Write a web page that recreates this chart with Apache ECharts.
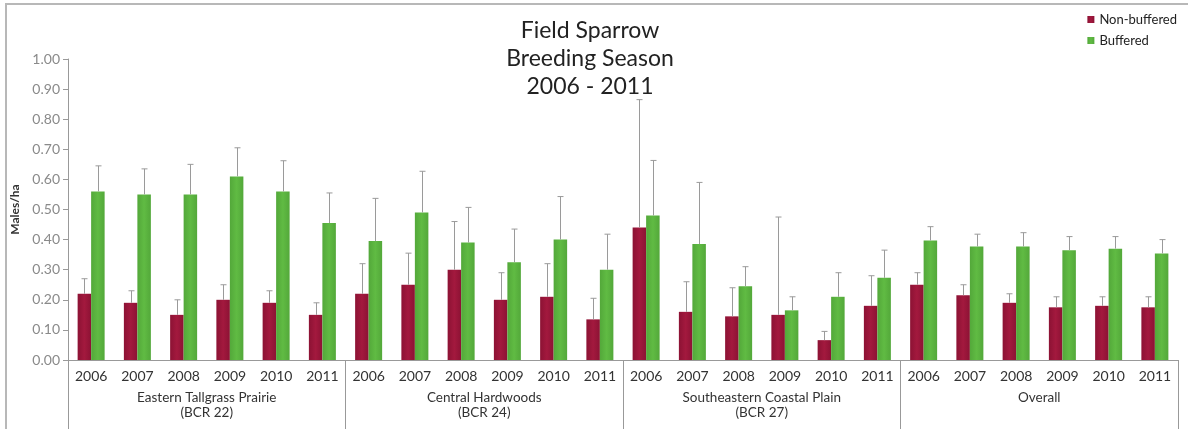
<!DOCTYPE html>
<html>
<head>
<meta charset="utf-8">
<script src="https://cdn.jsdelivr.net/npm/echarts@6/dist/echarts.min.js"></script>
<style>
html,body{margin:0;padding:0;background:#fff;}
#chart{width:1188px;height:429px;}
</style>
</head>
<body>
<div id="chart"></div>
<script>
// ---- data ----
const years = ['2006','2007','2008','2009','2010','2011'];
const groups = ['Eastern Tallgrass Prairie\n(BCR 22)', 'Central Hardwoods\n(BCR 24)', 'Southeastern Coastal Plain\n(BCR 27)', 'Overall'];
const categories = [].concat(years, years, years, years);
const nonBuffered    = [0.22,0.19,0.15,0.20,0.19,0.15,  0.22,0.25,0.30,0.20,0.21,0.135,  0.44,0.16,0.145,0.15,0.066,0.18,  0.25,0.215,0.19,0.175,0.18,0.175];
const nonBufferedErr = [0.27,0.23,0.20,0.25,0.23,0.19,  0.32,0.355,0.46,0.29,0.32,0.205,  0.865,0.26,0.24,0.475,0.095,0.28,  0.29,0.25,0.22,0.21,0.21,0.21];
const buffered       = [0.56,0.55,0.55,0.61,0.56,0.455,  0.395,0.49,0.39,0.325,0.40,0.30,  0.48,0.385,0.245,0.165,0.21,0.273,  0.397,0.377,0.377,0.365,0.37,0.354];
const bufferedErr    = [0.645,0.635,0.65,0.705,0.662,0.555,  0.537,0.627,0.507,0.435,0.543,0.418,  0.663,0.59,0.31,0.21,0.29,0.365,  0.443,0.418,0.423,0.41,0.41,0.40];
const yTicks = [0,0.1,0.2,0.3,0.4,0.5,0.6,0.7,0.8,0.9,1.0];

// ---- chart ----
const BAR_W = 13.5;
const RED = '#a3193e', GREEN = '#60bb43';
const chart = echarts.init(document.getElementById('chart'));

function errRender(sign){
  return function(params, api){
    const x = api.value(0);
    const top = api.coord([x, api.value(2)]);
    const base = api.coord([x, api.value(1)]);
    const cx = Math.round(top[0] + sign * BAR_W / 2) + 0.5;
    const style = {stroke:'#9a9a9a', lineWidth:1};
    return {type:'group', children:[
      {type:'line', shape:{x1:cx, y1:base[1], x2:cx, y2:top[1]}, style:style},
      {type:'line', shape:{x1:cx-3, y1:top[1], x2:cx+3, y2:top[1]}, style:style}
    ]};
  };
}

const option = {
  animation:false,
  backgroundColor:'#fff',
  title:{
    text:'Field Sparrow\nBreeding Season\n2006 - 2011',
    left:585, top:12, textAlign:'center',
    textStyle:{fontFamily:'Lato', fontWeight:'normal', fontSize:23, lineHeight:28, color:'#222'}
  },
  legend:{
    data:['Non-buffered','Buffered'],
    orient:'vertical', right:6, top:8, itemWidth:7, itemHeight:7, itemGap:8, icon:'rect',
    textStyle:{fontFamily:'Lato', fontSize:13, color:'#222'}
  },
  graphic:[{type:'rect', shape:{x:6, y:4, width:1220, height:460}, style:{fill:'none', stroke:'#b8b8b8', lineWidth:2}, silent:true}],
  grid:{left:68, right:10, top:59, bottom:69},
  xAxis:[
    {type:'category', data:categories, position:'bottom',
     axisLine:{lineStyle:{color:'#999'}}, axisTick:{show:false},
     axisLabel:{interval:0, margin:9, fontFamily:'Lato', fontSize:14, color:'#333'}},
    {type:'category', data:groups, position:'bottom',
     axisLine:{show:false},
     axisTick:{show:true, length:72, interval:0, lineStyle:{color:'#999'}},
     axisLabel:{interval:0, margin:30, fontFamily:'Lato', fontSize:13.5, lineHeight:15, color:'#333'}}
  ],
  yAxis:{
    type:'value', min:0, max:1, interval:0.1,
    name:'Males/ha', nameLocation:'middle', nameGap:46,
    nameTextStyle:{fontFamily:'Lato', fontSize:12, fontWeight:'bold', color:'#333'},
    axisLine:{show:true, lineStyle:{color:'#999'}},
    axisTick:{show:true, length:5, lineStyle:{color:'#999'}},
    splitLine:{show:false},
    axisLabel:{margin:8, fontFamily:'Lato', fontSize:14, color:'#8a8a8a', formatter:v=>v.toFixed(2)}
  },
  series:[
    {name:'Non-buffered', type:'bar', xAxisIndex:0, data:nonBuffered, barWidth:BAR_W, barGap:'0%',
     itemStyle:{color:new echarts.graphic.LinearGradient(0,0,1,0,[{offset:0,color:'#8c1234'},{offset:0.5,color:RED},{offset:1,color:'#8c1234'}])},
     z:2},
    {name:'Buffered', type:'bar', xAxisIndex:0, data:buffered, barWidth:BAR_W, barGap:'0%',
     itemStyle:{color:new echarts.graphic.LinearGradient(0,0,1,0,[{offset:0,color:'#53a83a'},{offset:0.5,color:GREEN},{offset:1,color:'#53a83a'}])},
     z:2},
    {type:'custom', xAxisIndex:0, renderItem:errRender(-1), data:nonBuffered.map((v,i)=>[i,v,nonBufferedErr[i]]), z:3, silent:true},
    {type:'custom', xAxisIndex:0, renderItem:errRender(1), data:buffered.map((v,i)=>[i,v,bufferedErr[i]]), z:3, silent:true}
  ]
};
chart.setOption(option);
</script>
</body>
</html>
